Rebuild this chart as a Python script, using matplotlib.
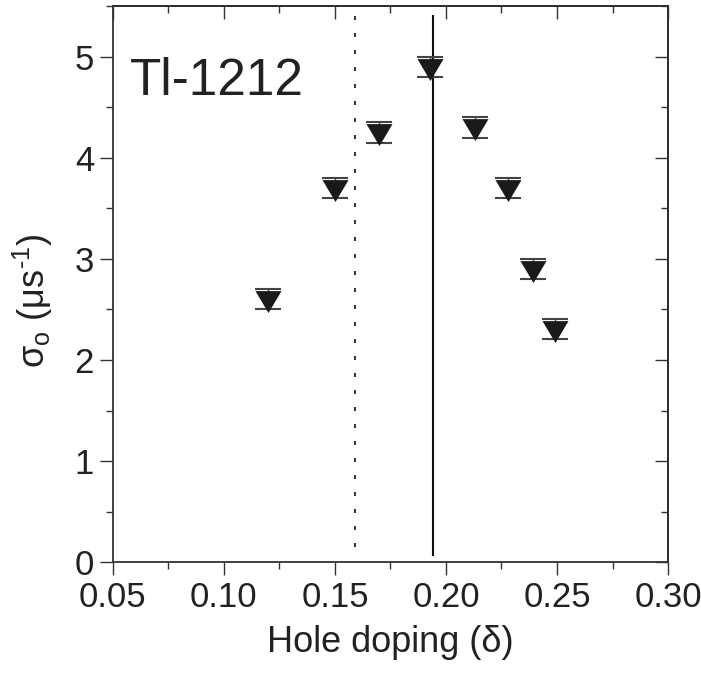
import numpy as np
import matplotlib
matplotlib.use("Agg")
import matplotlib.pyplot as plt
from matplotlib.ticker import MultipleLocator

plt.rcParams['font.family'] = ['Liberation Sans', 'DejaVu Sans']
plt.rcParams['mathtext.fontset'] = 'custom'
plt.rcParams['mathtext.rm'] = 'Liberation Sans'
plt.rcParams['mathtext.it'] = 'Liberation Sans'

#data
doping = [0.120, 0.150, 0.170, 0.193, 0.213, 0.228, 0.239, 0.249]
sigma0 = [2.60, 3.70, 4.25, 4.90, 4.30, 3.70, 2.90, 2.31]
sigma_err = [0.10, 0.10, 0.10, 0.10, 0.10, 0.10, 0.10, 0.10]

#vertical reference lines (x, ymin, ymax)
dotted_line = (0.159, 0.15, 5.45)
solid_line = (0.194, 0.07, 5.40)

fig = plt.figure(figsize=(7.01, 6.75), dpi=100)
ax = fig.add_axes([0.161, 0.167, 0.792, 0.824])

#flattened down-triangle, sitting a little low so the top cap shows
tri = [(-0.96, 0.62), (0.96, 0.62), (0, -1.0), (-0.96, 0.62)]

ax.errorbar(doping, sigma0, yerr=sigma_err, fmt='none', ecolor='#444444',
            elinewidth=1.0, capsize=9.5, capthick=1.5, zorder=2)
ax.plot(doping, sigma0, linestyle='none', marker=tri, markersize=19.5,
        color='#1a1a1a', markeredgewidth=0, zorder=3)

ax.plot([dotted_line[0]] * 2, dotted_line[1:], color='#111111', lw=1.2,
        dashes=(2.4, 7.8), zorder=1)
ax.plot([solid_line[0]] * 2, solid_line[1:], color='#111111', lw=1.5, zorder=1)

ax.text(0.031, 0.84, 'Tl-1212', transform=ax.transAxes, fontsize=37,
        color='#222222', ha='left', va='baseline')

ax.set_xlim(0.05, 0.30)
ax.set_ylim(0, 5.5)
ax.xaxis.set_major_locator(MultipleLocator(0.05))
ax.xaxis.set_minor_locator(MultipleLocator(0.025))
ax.yaxis.set_major_locator(MultipleLocator(1))
ax.yaxis.set_minor_locator(MultipleLocator(0.5))
ax.xaxis.set_major_formatter(plt.FormatStrFormatter('%.2f'))

for sp in ax.spines.values():
    sp.set_linewidth(1.3)
    sp.set_color('#333333')

ax.tick_params(which='major', direction='out', length=9.5, width=1.0,
               labelsize=25, colors='#333333', labelcolor='#222222', pad=4)
ax.tick_params(which='minor', direction='out', length=5, width=1.0, colors='#333333')

#top and right ticks point inward
top = ax.secondary_xaxis('top')
top.xaxis.set_major_locator(MultipleLocator(0.05))
top.xaxis.set_minor_locator(MultipleLocator(0.025))
top.tick_params(which='major', direction='in', length=9.5, width=1.0, labeltop=False, colors='#333333')
top.tick_params(which='minor', direction='in', length=5, width=1.0, colors='#333333')
top.spines['top'].set_linewidth(1.3)
right = ax.secondary_yaxis('right')
right.yaxis.set_major_locator(MultipleLocator(1))
right.yaxis.set_minor_locator(MultipleLocator(0.5))
right.tick_params(which='major', direction='in', length=9.5, width=1.0, labelright=False, colors='#333333')
right.tick_params(which='minor', direction='in', length=5, width=1.0, colors='#333333')
right.spines['right'].set_linewidth(1.3)

ax.set_xlabel('Hole doping (δ)', fontsize=26, color='#222222', labelpad=8)
ax.set_ylabel(r'σ$_{\rm o}$ (μs$^{\text{-1}}$)', fontsize=26, color='#222222')
ax.yaxis.set_label_coords(-0.105, 0.47)

fig.savefig('out.png', dpi=100)
